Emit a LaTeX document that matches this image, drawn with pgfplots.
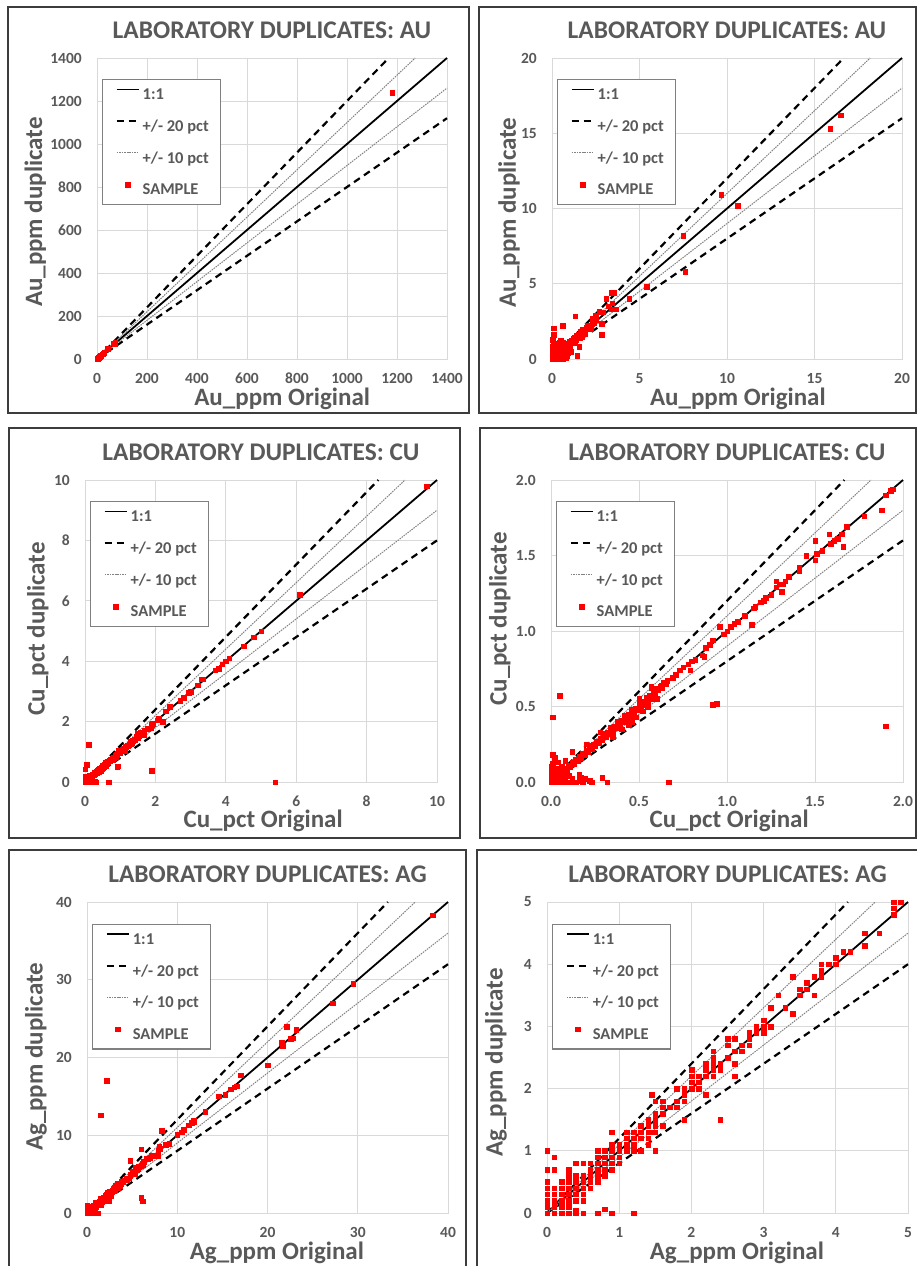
\documentclass[border=0pt]{standalone}
\usepackage{fontspec}
\setmainfont{Carlito}
\usepackage{pgfplots}
\usepackage{pgfplotstable}
\pgfplotsset{compat=1.18}
\definecolor{txtgray}{RGB}{89,89,89}
\definecolor{gridgray}{RGB}{217,217,217}
\definecolor{framegray}{RGB}{60,60,60}
\definecolor{leggray}{RGB}{128,128,128}
\definecolor{dotgray}{RGB}{130,130,130}

% Au: original vs duplicate (ppm)
\pgfplotstableread{
x y
1180 1240
72 77
64 74
70 72
40 51
45 48
28 30
25 27
22 23
16.5 16.2
15.9 15.3
9.66 10.9
10.6 10.2
7.5 8.2
7.6 5.8
5.4 4.8
4.4 4.0
3.1 4.0
3.4 4.4
3.55 4.4
3.2 3.5
3.45 3.7
3.4 3.3
3.65 3.3
2.7 3.15
2.9 3.1
2.5 2.9
2.3 2.7
2.85 2.35
2.85 1.6
1.33 2.85
0.6 2.2
0.08 2.05
0.05 1.3
0.08 1.6
1.45 0.2
1.56 0.8
2.4 2.4
2.3 2.3
2.2 2.25
2.1 2.1
2.0 2.0
1.95 2.1
1.9 1.9
1.8 1.85
1.75 1.95
1.7 1.7
1.65 1.8
1.6 1.6
1.55 1.5
1.5 1.65
1.45 1.45
1.4 1.55
1.35 1.3
1.3 1.45
1.25 1.2
1.2 1.35
1.15 1.1
1.1 1.25
1.05 1.0
1.0 1.15
0.95 0.9
0.9 1.05
0.85 0.8
0.8 1.0
0.75 0.75
0.7 0.9
0.65 0.6
0.6 0.8
0.55 0.5
0.5 0.7
0.45 0.45
0.4 0.6
1.9 1.7
2.2 2.0
1.7 1.5
1.6 1.4
1.3 1.1
2.5 2.6
2.3 2.5
2.0 2.2
0.05 0.05
0.1 0.1
0.15 0.05
0.2 0.2
0.25 0.1
0.3 0.3
0.35 0.15
0.4 0.35
0.05 0.3
0.1 0.5
0.15 0.4
0.2 0.7
0.25 0.55
0.3 0.9
0.05 0.8
0.1 1.0
0.35 0.65
0.45 0.25
0.5 0.1
0.55 0.3
0.6 0.15
0.65 0.4
0.7 0.05
0.75 0.3
0.8 0.55
0.85 0.2
0.9 0.4
1.0 0.6
1.05 0.75
1.1 0.5
0.5 1.2
0.4 1.1
0.55 1.0
0.65 1.1
0.0 0.0
0.0 0.2
0.0 0.45
0.0 0.65
0.2 0.0
0.4 0.0
0.6 0.0
0.8 0.05
0.3 0.5
0.5 0.45
0.15 0.25
0.25 0.35
0.7 0.7
0.45 0.8
}\audata

% Cu: original vs duplicate (pct)
\pgfplotstableread{
x y
9.7 9.8
6.1 6.2
5.0 5.0
4.8 4.8
4.5 4.5
4.1 4.1
4.0 4.0
3.9 3.9
3.8 3.75
3.7 3.7
3.35 3.4
3.3 3.4
3.2 3.2
3.0 3.0
2.95 2.95
2.8 2.8
2.7 2.7
2.4 2.5
2.3 2.35
2.2 2.0
2.1 2.1
2.05 2.05
5.4 0.0
1.94 1.94
1.93 1.93
1.90 1.90
1.88 1.80
1.78 1.76
1.68 1.69
1.65 1.64
1.58 1.64
1.66 1.56
1.63 1.61
1.61 1.60
1.59 1.58
1.50 1.60
1.54 1.53
1.51 1.51
1.50 1.47
1.45 1.50
1.41 1.42
1.41 1.40
1.35 1.36
1.33 1.33
1.32 1.31
1.30 1.31
1.28 1.29
1.28 1.33
1.31 1.26
1.25 1.24
1.22 1.22
1.21 1.20
1.19 1.19
1.16 1.16
1.15 1.15
1.14 1.04
1.10 1.10
1.06 1.06
1.04 1.05
1.02 1.03
1.00 1.00
0.98 0.98
0.96 1.03
0.92 0.94
0.90 0.91
0.88 0.89
0.87 0.83
0.86 0.84
0.82 0.81
0.80 0.80
0.78 0.78
0.79 0.74
0.75 0.76
0.73 0.74
0.71 0.71
0.69 0.69
0.66 0.67
0.65 0.65
0.63 0.64
0.61 0.61
0.57 0.62
0.58 0.60
0.92 0.51
0.94 0.52
1.90 0.37
0.05 0.57
0.01 0.43
0.67 0.0
0.32 0.0
0.29 0.03
0.22 0.01
0.23 0.0
0.19 0.02
0.12 0.20
0.01 0.18
0.02 0.16
0.06 0.07
0.07 0.05
0.08 0.09
0.09 0.08
0.10 0.11
0.11 0.10
0.12 0.13
0.13 0.12
0.14 0.15
0.15 0.14
0.16 0.17
0.17 0.16
0.18 0.19
0.19 0.18
0.20 0.21
0.21 0.20
0.22 0.24
0.23 0.22
0.24 0.25
0.25 0.24
0.26 0.27
0.27 0.26
0.28 0.29
0.29 0.28
0.30 0.32
0.31 0.30
0.32 0.33
0.33 0.32
0.34 0.36
0.35 0.34
0.36 0.37
0.37 0.36
0.38 0.40
0.39 0.38
0.40 0.41
0.41 0.40
0.42 0.44
0.43 0.42
0.44 0.45
0.45 0.44
0.46 0.48
0.47 0.46
0.48 0.49
0.49 0.48
0.50 0.52
0.51 0.50
0.52 0.53
0.53 0.51
0.54 0.56
0.55 0.54
0.56 0.57
0.57 0.55
0.58 0.60
0.59 0.58
0.60 0.62
0.62 0.63
0.63 0.62
0.64 0.66
0.44 0.38
0.40 0.35
0.46 0.40
0.35 0.30
0.28 0.33
0.20 0.25
0.48 0.43
0.52 0.47
0.55 0.50
0.57 0.63
0.60 0.55
0.50 0.55
0.0 0.0
0.02 0.0
0.04 0.0
0.06 0.0
0.08 0.0
0.10 0.0
0.12 0.0
0.14 0.0
0.0 0.02
0.0 0.04
0.0 0.06
0.0 0.08
0.0 0.10
0.02 0.03
0.04 0.05
0.02 0.07
0.05 0.02
0.08 0.03
0.03 0.09
0.10 0.04
0.12 0.02
0.06 0.10
0.01 0.12
0.16 0.01
0.18 0.0
0.16 0.05
0.17 0.03
0.08 0.14
0.04 0.13
}\cudata

% Cu point seen only on the 0-10 chart
\pgfplotstableread{
x y
0.11 1.23
}\cuextra

% Ag: original vs duplicate (ppm)
\pgfplotstableread{
x y
38.3 38.3
29.5 29.5
27.2 27.0
23.2 23.6
22.8 22.5
22.6 22.4
22.1 24.0
21.6 21.9
21.7 21.5
20.0 19.0
17.0 17.7
16.6 16.3
16.3 16.2
15.9 15.9
15.3 15.2
14.6 15.0
13.1 13.0
11.8 11.7
11.6 11.6
11.8 11.9
11.3 11.3
10.7 10.7
10.5 10.4
10.0 10.1
9.1 8.9
8.7 8.8
8.3 10.6
8.0 8.5
8.1 8.3
7.9 8.0
7.9 7.4
7.5 7.4
7.2 7.4
6.6 7.0
6.3 6.6
6.1 6.4
6.0 8.2
4.8 6.7
6.0 2.0
6.2 1.5
1.5 12.6
2.2 17.0
5.9 6.0
5.7 6.0
5.5 5.5
5.4 5.8
5.2 5.3
5.0 5.2
5.3 5.0
5.6 5.7
5.8 5.9
6.0 6.1
6.2 6.2
6.8 6.9
7.0 7.1
0.0 1.0
0.0 0.7
0.0 0.5
0.0 0.4
0.0 0.3
0.0 0.2
0.0 0.1
0.0 0.0
0.1 0.9
0.1 0.7
0.1 0.4
0.1 0.3
0.1 0.2
0.1 0.1
0.1 0.0
0.2 0.5
0.2 0.4
0.2 0.3
0.2 0.2
0.2 0.1
0.2 0.0
0.3 0.7
0.3 0.6
0.3 0.5
0.3 0.4
0.3 0.3
0.3 0.2
0.3 0.1
0.3 0.0
0.4 0.8
0.4 0.6
0.4 0.5
0.4 0.4
0.4 0.3
0.4 0.2
0.4 0.04
0.4 0.0
0.5 0.8
0.5 0.6
0.5 0.5
0.5 0.4
0.5 0.3
0.5 0.2
0.5 0.0
0.6 0.8
0.6 0.7
0.6 0.6
0.6 0.5
0.6 0.4
0.7 1.0
0.7 0.9
0.7 0.8
0.7 0.7
0.7 0.6
0.7 0.5
0.7 0.0
0.8 1.0
0.8 0.9
0.8 0.8
0.8 0.7
0.8 0.6
0.8 0.06
0.9 1.3
0.9 1.1
0.9 1.0
0.9 0.9
0.9 0.8
0.9 0.7
0.9 0.0
1.0 1.1
1.0 1.0
1.0 0.9
1.0 0.8
1.1 1.3
1.1 1.2
1.1 1.1
1.1 1.0
1.2 1.3
1.2 1.2
1.2 1.1
1.2 1.0
1.2 0.0
1.3 1.4
1.3 1.3
1.3 1.2
1.3 1.0
1.4 1.5
1.4 1.4
1.4 1.3
1.4 1.2
1.4 1.1
1.45 1.9
1.45 1.3
1.5 1.8
1.5 1.6
1.5 1.5
1.5 1.4
1.5 1.3
1.5 1.0
1.6 1.8
1.6 1.7
1.6 1.6
1.6 1.4
1.7 1.7
1.8 2.0
1.8 1.8
1.8 1.7
1.9 2.0
1.9 1.9
1.9 1.8
1.9 1.5
2.0 2.3
2.0 2.2
2.0 2.1
2.0 2.0
2.1 2.2
2.1 2.1
2.1 2.0
2.2 2.4
2.2 2.3
2.2 2.2
2.2 1.9
2.3 2.6
2.3 2.5
2.3 2.4
2.3 2.3
2.3 2.2
2.4 2.4
2.4 2.3
2.4 1.5
2.5 2.8
2.5 2.7
2.5 2.5
2.6 2.8
2.6 2.6
2.6 2.4
2.6 2.2
2.7 2.7
2.7 2.6
2.8 2.9
2.8 2.8
2.8 2.7
2.9 3.0
2.9 2.9
3.0 3.1
3.0 3.0
3.0 2.9
3.1 3.3
3.1 3.0
3.2 3.5
3.3 3.3
3.4 3.8
3.4 3.2
3.5 3.6
3.5 3.5
3.6 3.7
3.6 3.6
3.7 3.8
3.7 3.5
3.8 4.0
3.8 3.9
3.8 3.8
3.9 4.0
4.0 4.1
4.0 4.0
4.1 4.2
4.2 4.2
4.4 4.5
4.4 4.3
4.6 4.5
4.8 5.0
4.8 4.9
4.8 4.8
4.9 5.0
}\agdata

\pgfplotsset{
    dupaxis/.style={
        scale only axis,
        xmin=0, ymin=0,
        clip=false,
        axis line style={draw=gridgray, line width=0.9pt},
        grid=major,
        major grid style={draw=gridgray, line width=0.9pt},
        major tick length=0pt,
        scaled ticks=false,
        /pgf/number format/assume math mode=true,
        /pgf/number format/1000 sep={},
        tick label style={font=\fontsize{15.5}{17}\selectfont\bfseries, text=txtgray, inner sep=0pt},
        xticklabel style={anchor=north, yshift=-14pt},
        yticklabel style={anchor=east, xshift=-15pt},
        % the default title style carries yshift=6pt, hence 1.045
        title style={font=\fontsize{25.4}{30}\selectfont\bfseries, text=txtgray, anchor=base, at={(0.5,1.045)}, inner sep=0pt},
        label style={font=\fontsize{25}{30}\selectfont\bfseries, text=txtgray, inner sep=0pt},
        legend cell align=left,
        legend style={at={(0.014,0.93)}, anchor=north west,
            draw=leggray, line width=1.2pt, fill=white,
            inner xsep=9pt, inner ysep=7pt,
            row sep=16.1pt, column sep=0pt,
            font=\fontsize{16.5}{18}\selectfont\bfseries, text=txtgray,
            nodes={inner xsep=3pt, inner ysep=0pt, text height=13pt, text depth=2.6pt}},
        legend image code/.code={
            \path (0pt,5pt);
            \draw[mark repeat=2, mark phase=2, ##1] plot coordinates {(4pt,5pt) (15pt,5pt) (26pt,5pt)};
        },
    },
    oneone/.style={black, line width=1.8pt, mark=none},
    twenty/.style={black, line width=2.2pt, dash pattern=on 7pt off 5pt, mark=none},
    ten/.style={dotgray, line width=1pt, dash pattern=on 1.5pt off 1pt, mark=none},
    samp/.style={only marks, mark=square*, mark size=2.3pt, red, line width=0.4pt},
}

\begin{document}
\begin{tikzpicture}
\fill[white, use as bounding box] (0pt,0pt) rectangle (917pt,-1266pt);

% ---------- Au, 0-1400 ----------
\begin{axis}[dupaxis,
    at={(97pt,-359pt)}, anchor=south west,
    width=350pt, height=301pt,
    xmax=1400, ymax=1400,
    xtick={0,200,...,1400}, ytick={0,200,...,1400},
    title={LABORATORY DUPLICATES: AU},
    xlabel={Au\_ppm Original}, ylabel={Au\_ppm duplicate},
    xlabel style={at={(0.529,-0.153)}, anchor=base},
    ylabel style={at={(-0.157,0.488)}, anchor=base},
    ]
    \addplot[oneone] coordinates {(0,0) (1400,1400)};
    \addlegendentry{1:1}
    \addplot[twenty] coordinates {(0,0) (1166.7,1400)};
    \addlegendentry{+/- 20 pct}
    \addplot[twenty, forget plot] coordinates {(0,0) (1400,1120)};
    \addplot[ten] coordinates {(0,0) (1272.7,1400)};
    \addlegendentry{+/- 10 pct}
    \addplot[ten, forget plot] coordinates {(0,0) (1400,1260)};
    \addplot[samp, restrict x to domain=0:1400, restrict y to domain=0:1400] table[x=x, y=y] {\audata};
    \addlegendentry{SAMPLE}
\end{axis}

% ---------- Au, 0-20 ----------
\begin{axis}[dupaxis,
    at={(552pt,-359pt)}, anchor=south west,
    width=350pt, height=301pt,
    xmax=20, ymax=20,
    xtick={0,5,...,20}, ytick={0,5,...,20},
    title={LABORATORY DUPLICATES: AU},
    xlabel={Au\_ppm Original}, ylabel={Au\_ppm duplicate},
    xlabel style={at={(0.531,-0.153)}, anchor=base},
    ylabel style={at={(-0.103,0.487)}, anchor=base},
    ]
    \addplot[oneone] coordinates {(0,0) (20,20)};
    \addlegendentry{1:1}
    \addplot[twenty] coordinates {(0,0) (16.667,20)};
    \addlegendentry{+/- 20 pct}
    \addplot[twenty, forget plot] coordinates {(0,0) (20,16)};
    \addplot[ten] coordinates {(0,0) (18.182,20)};
    \addlegendentry{+/- 10 pct}
    \addplot[ten, forget plot] coordinates {(0,0) (20,18)};
    \addplot[samp, restrict x to domain=0:20, restrict y to domain=0:20] table[x=x, y=y] {\audata};
    \addlegendentry{SAMPLE}
\end{axis}

% ---------- Cu, 0-10 ----------
\begin{axis}[dupaxis,
    at={(85pt,-782pt)}, anchor=south west,
    width=352pt, height=302pt,
    xmax=10, ymax=10,
    xtick={0,2,...,10}, ytick={0,2,...,10},
    title={LABORATORY DUPLICATES: CU},
    xlabel={Cu\_pct Original}, ylabel={Cu\_pct duplicate},
    xlabel style={at={(0.506,-0.152)}, anchor=base},
    ylabel style={at={(-0.115,0.507)}, anchor=base},
    ]
    \addplot[oneone] coordinates {(0,0) (10,10)};
    \addlegendentry{1:1}
    \addplot[twenty] coordinates {(0,0) (8.3333,10)};
    \addlegendentry{+/- 20 pct}
    \addplot[twenty, forget plot] coordinates {(0,0) (10,8)};
    \addplot[ten] coordinates {(0,0) (9.0909,10)};
    \addlegendentry{+/- 10 pct}
    \addplot[ten, forget plot] coordinates {(0,0) (10,9)};
    \addplot[samp, restrict x to domain=0:10, restrict y to domain=0:10] table[x=x, y=y] {\cudata};
    \addlegendentry{SAMPLE}
    \addplot[samp, forget plot] table[x=x, y=y] {\cuextra};
\end{axis}

% ---------- Cu, 0-2 ----------
\begin{axis}[dupaxis,
    at={(551pt,-782pt)}, anchor=south west,
    width=352pt, height=302pt,
    xmax=2, ymax=2,
    xtick={0,0.5,...,2}, ytick={0,0.5,...,2},
    /pgf/number format/fixed, /pgf/number format/fixed zerofill, /pgf/number format/precision=1,
    title={LABORATORY DUPLICATES: CU},
    xlabel={Cu\_pct Original}, ylabel={Cu\_pct duplicate},
    xlabel style={at={(0.506,-0.152)}, anchor=base},
    ylabel style={at={(-0.126,0.540)}, anchor=base},
    ]
    \addplot[oneone] coordinates {(0,0) (2,2)};
    \addlegendentry{1:1}
    \addplot[twenty] coordinates {(0,0) (1.6667,2)};
    \addlegendentry{+/- 20 pct}
    \addplot[twenty, forget plot] coordinates {(0,0) (2,1.6)};
    \addplot[ten] coordinates {(0,0) (1.8182,2)};
    \addlegendentry{+/- 10 pct}
    \addplot[ten, forget plot] coordinates {(0,0) (2,1.8)};
    \addplot[samp, restrict x to domain=0:2, restrict y to domain=0:2] table[x=x, y=y] {\cudata};
    \addlegendentry{SAMPLE}
\end{axis}

% ---------- Ag, 0-40 ----------
\begin{axis}[dupaxis,
    at={(87pt,-1213pt)}, anchor=south west,
    width=361pt, height=311pt,
    xmax=40, ymax=40,
    xtick={0,10,...,40}, ytick={0,10,...,40},
    title={LABORATORY DUPLICATES: AG},
    xlabel={Ag\_ppm Original}, ylabel={Ag\_ppm duplicate},
    xlabel style={at={(0.526,-0.148)}, anchor=base},
    ylabel style={at={(-0.123,0.502)}, anchor=base},
    ]
    \addplot[oneone] coordinates {(0,0) (40,40)};
    \addlegendentry{1:1}
    \addplot[twenty] coordinates {(0,0) (33.333,40)};
    \addlegendentry{+/- 20 pct}
    \addplot[twenty, forget plot] coordinates {(0,0) (40,32)};
    \addplot[ten] coordinates {(0,0) (36.364,40)};
    \addlegendentry{+/- 10 pct}
    \addplot[ten, forget plot] coordinates {(0,0) (40,36)};
    \addplot[samp, restrict x to domain=0:40, restrict y to domain=0:40] table[x=x, y=y] {\agdata};
    \addlegendentry{SAMPLE}
\end{axis}

% ---------- Ag, 0-5 ----------
\begin{axis}[dupaxis,
    at={(547pt,-1213pt)}, anchor=south west,
    width=361pt, height=311pt,
    xmax=5, ymax=5,
    xtick={0,1,...,5}, ytick={0,1,...,5},
    title={LABORATORY DUPLICATES: AG},
    xlabel={Ag\_ppm Original}, ylabel={Ag\_ppm duplicate},
    xlabel style={at={(0.526,-0.148)}, anchor=base},
    ylabel style={at={(-0.123,0.484)}, anchor=base},
    ]
    \addplot[oneone] coordinates {(0,0) (5,5)};
    \addlegendentry{1:1}
    \addplot[twenty] coordinates {(0,0) (4.1667,5)};
    \addlegendentry{+/- 20 pct}
    \addplot[twenty, forget plot] coordinates {(0,0) (5,4)};
    \addplot[ten] coordinates {(0,0) (4.5455,5)};
    \addlegendentry{+/- 10 pct}
    \addplot[ten, forget plot] coordinates {(0,0) (5,4.5)};
    \addplot[samp, restrict x to domain=0:5, restrict y to domain=0:5.01] table[x=x, y=y] {\agdata};
    \addlegendentry{SAMPLE}
\end{axis}

% panel frames
\draw[framegray, line width=2pt] (8pt,-7pt) rectangle (469pt,-413pt);
\draw[framegray, line width=2pt] (479pt,-7pt) rectangle (916pt,-413pt);
\draw[framegray, line width=2pt] (9pt,-428pt) rectangle (460pt,-838pt);
\draw[framegray, line width=2pt] (480pt,-428pt) rectangle (916pt,-838pt);
\draw[framegray, line width=2pt] (9pt,-850pt) rectangle (466pt,-1272pt);
\draw[framegray, line width=2pt] (477pt,-850pt) rectangle (922pt,-1272pt);
\end{tikzpicture}
\end{document}
